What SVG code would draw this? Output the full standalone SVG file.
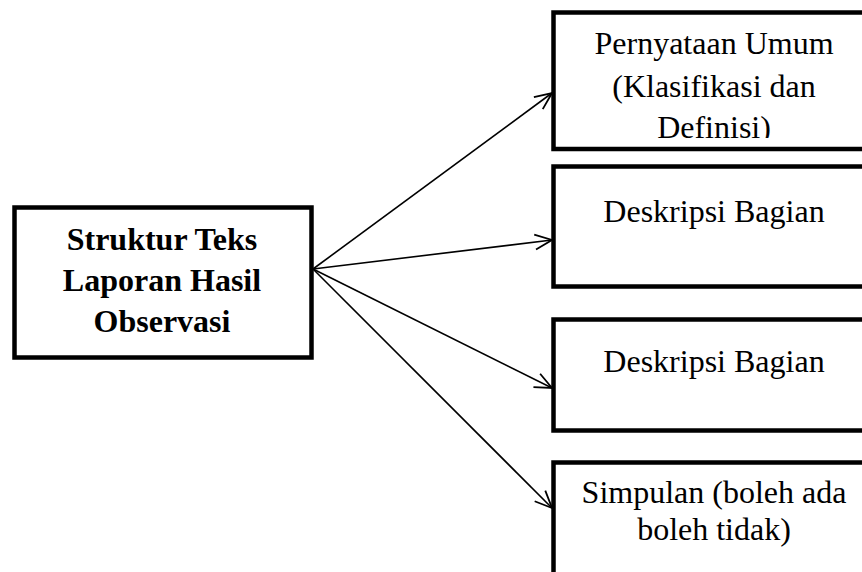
<svg xmlns="http://www.w3.org/2000/svg" width="862" height="572" viewBox="0 0 862 572">
<style>
.box{fill:#fff;stroke:#000;stroke-width:4.5}
.t{font-family:"Liberation Serif","Times New Roman",serif;font-size:32px;fill:#000;text-anchor:middle}
.b{font-weight:bold}
.c{stroke:#000;stroke-width:1.6;fill:none}
</style>
<defs>
<marker id="ah" markerWidth="24" markerHeight="20" refX="20" refY="10" orient="auto" markerUnits="userSpaceOnUse">
<path d="M3,2.5 L20,10 L3,17.5" fill="none" stroke="#000" stroke-width="1.8"/>
</marker>
<clipPath id="clip1"><rect x="556" y="15" width="320" height="123"/></clipPath>
</defs>
<g id="connectors">
<line class="c" x1="313" y1="269" x2="552" y2="93" marker-end="url(#ah)"/>
<line class="c" x1="313" y1="269" x2="552" y2="240" marker-end="url(#ah)"/>
<line class="c" x1="313" y1="269" x2="552" y2="388" marker-end="url(#ah)"/>
<line class="c" x1="313" y1="269" x2="552" y2="508" marker-end="url(#ah)"/>
</g>
<g id="node-main">
<rect class="box" x="14.5" y="207.5" width="297" height="150"/>
<text class="t b" x="162" y="250">Struktur Teks</text>
<text class="t b" x="162" y="291">Laporan Hasil</text>
<text class="t b" x="162" y="332">Observasi</text>
</g>
<g id="node-pernyataan">
<rect class="box" x="553.5" y="12.5" width="322" height="136.5"/>
<g clip-path="url(#clip1)">
<text class="t" x="714" y="54">Pernyataan Umum</text>
<text class="t" x="714" y="97">(Klasifikasi dan</text>
<text class="t" x="714" y="138">Definisi)</text>
</g>
</g>
<g id="node-deskripsi1">
<rect class="box" x="553.5" y="166.5" width="322" height="120"/>
<text class="t" x="714" y="222">Deskripsi Bagian</text>
</g>
<g id="node-deskripsi2">
<rect class="box" x="553.5" y="319.5" width="322" height="111"/>
<text class="t" x="714" y="372">Deskripsi Bagian</text>
</g>
<g id="node-simpulan">
<rect class="box" x="553.5" y="462.5" width="322" height="130"/>
<text class="t" x="714" y="503">Simpulan (boleh ada</text>
<text class="t" x="714" y="540">boleh tidak)</text>
</g>
</svg>
